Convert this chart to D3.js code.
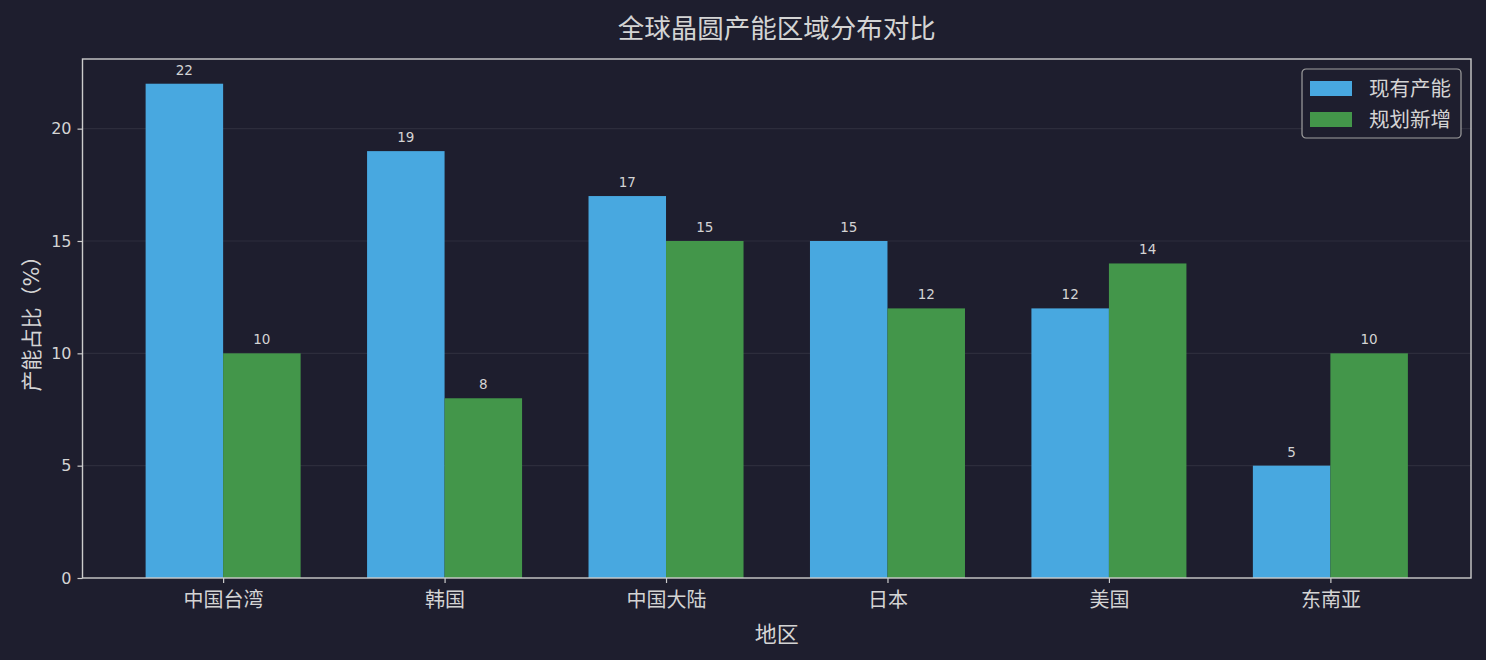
<!DOCTYPE html>
<html>
<head>
<meta charset="utf-8">
<script src="https://cdn.jsdelivr.net/npm/d3@7"></script>
<style>
    body { margin: 0; background: #1e1e2e; }
    svg text { font-family: "DejaVu Sans", "Noto Sans CJK SC", sans-serif; fill: #d4d4d4; }
</style>
</head>
<body>
<div class="chart"></div>
<script>
const regions = ['中国台湾', '韩国', '中国大陆', '日本', '美国', '东南亚'];
const currentCap = [22, 19, 17, 15, 12, 5];
const plannedCap = [10, 8, 15, 12, 14, 10];
const seriesNames = ['现有产能', '规划新增'];
const yTicks = [0, 5, 10, 15, 20];

const width = 1486;
const height = 660;
const margin = { top: 59, right: 15, bottom: 82, left: 82.5 };
const colors = ['#48a8e0', '#43964a'];

const svg = d3.select('.chart')
    .append('svg')
    .attr('width', width)
    .attr('height', height);

const plotW = width - margin.left - margin.right;
const plotH = height - margin.top - margin.bottom;

// matplotlib style: bars 0.35 wide, 5% margins
const barW = 0.35;
const x = d3.scaleLinear()
    .domain([-0.635, regions.length - 1 + 0.635])
    .range([margin.left, margin.left + plotW]);
const y = d3.scaleLinear()
    .domain([0, d3.max(currentCap) * 1.05])
    .range([margin.top + plotH, margin.top]);

// grid
svg.append('g')
    .selectAll('line')
    .data(yTicks.filter((d) => d > 0))
    .join('line')
    .attr('x1', margin.left)
    .attr('x2', margin.left + plotW)
    .attr('y1', (d) => y(d))
    .attr('y2', (d) => y(d))
    .attr('stroke', '#ffffff')
    .attr('stroke-opacity', 0.07)
    .attr('stroke-width', 1.2);

const series = [currentCap, plannedCap];
const offsets = [-barW / 2, barW / 2];

series.forEach((vals, s) => {
    const g = svg.append('g');
    g.selectAll('rect')
        .data(vals)
        .join('rect')
        .attr('x', (d, i) => x(i + offsets[s] - barW / 2))
        .attr('width', x(barW) - x(0))
        .attr('y', (d) => y(d))
        .attr('height', (d) => y(0) - y(d))
        .attr('fill', colors[s]);

    g.selectAll('text')
        .data(vals)
        .join('text')
        .attr('x', (d, i) => x(i + offsets[s]))
        .attr('y', (d) => y(d) - 9)
        .attr('text-anchor', 'middle')
        .attr('font-size', '13.5px')
        .text((d) => d);
});

// axes
const yAxis = svg.append('g')
    .attr('transform', `translate(${margin.left},0)`)
    .call(d3.axisLeft(y).tickValues(yTicks).tickSize(5).tickPadding(6));
const xAxis = svg.append('g')
    .attr('transform', `translate(0,${margin.top + plotH})`)
    .call(d3.axisBottom(x).tickValues(d3.range(regions.length)).tickFormat((i) => regions[i]).tickSize(5).tickPadding(10));

[xAxis, yAxis].forEach((a) => {
    a.select('.domain').remove();
    a.selectAll('line').attr('stroke', '#cccccc').attr('stroke-width', 1.2);
    a.selectAll('text').style('fill', '#d4d4d4');
});
yAxis.selectAll('text').attr('font-size', '16px');
xAxis.selectAll('text').attr('font-size', '20px');

// frame
svg.append('rect')
    .attr('x', margin.left)
    .attr('y', margin.top)
    .attr('width', plotW)
    .attr('height', plotH)
    .attr('fill', 'none')
    .attr('stroke', '#cccccc')
    .attr('stroke-width', 1.4);

// title & labels
svg.append('text')
    .attr('x', margin.left + plotW / 2)
    .attr('y', 38)
    .attr('text-anchor', 'middle')
    .attr('font-size', '26.5px')
    .text('全球晶圆产能区域分布对比');

svg.append('text')
    .attr('x', margin.left + plotW / 2)
    .attr('y', 642)
    .attr('text-anchor', 'middle')
    .attr('font-size', '22px')
    .text('地区');

svg.append('text')
    .attr('transform', `translate(39,${margin.top + plotH / 2}) rotate(-90)`)
    .attr('text-anchor', 'middle')
    .attr('font-size', '21px')
    .text('产能占比（%）');

// legend
const legend = svg.append('g').attr('transform', 'translate(1302,69)');
legend.append('rect')
    .attr('width', 159)
    .attr('height', 69)
    .attr('rx', 4)
    .attr('fill', '#1e1e2e')
    .attr('stroke', '#a0a0a0')
    .attr('stroke-width', 1.2);

const item = legend.selectAll('g.item')
    .data(seriesNames)
    .join('g')
    .attr('class', 'item')
    .attr('transform', (d, i) => `translate(8,${12 + i * 31})`);
item.append('rect')
    .attr('width', 42)
    .attr('height', 15)
    .attr('fill', (d, i) => colors[i]);
item.append('text')
    .attr('x', 59)
    .attr('y', 15)
    .attr('font-size', '20.5px')
    .text((d) => d);
</script>
</body>
</html>
